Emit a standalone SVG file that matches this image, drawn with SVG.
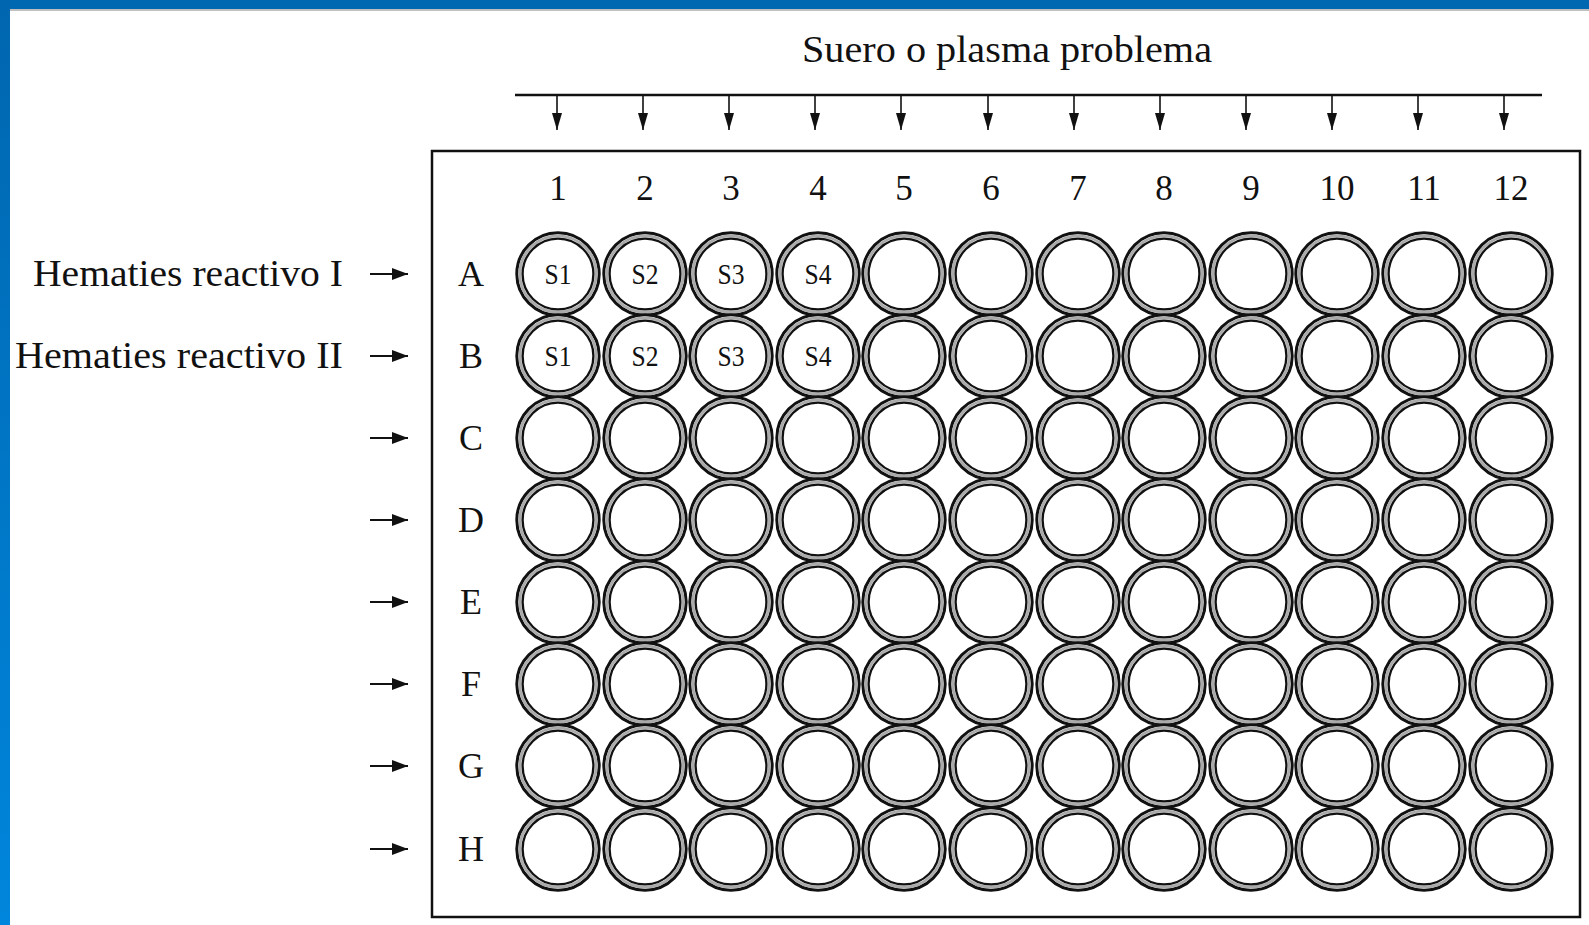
<svg xmlns="http://www.w3.org/2000/svg" xmlns:xlink="http://www.w3.org/1999/xlink" width="1589" height="925" viewBox="0 0 1589 925">
<style>
.t{font-family:"Liberation Serif","Times New Roman",serif;fill:#111}
.title{font-size:38px}
.num{font-size:35px;text-anchor:middle}
.row{font-size:36px;text-anchor:middle}
.lab{font-size:37px}
.s{font-size:29px;text-anchor:middle}
.conn{stroke:#111;fill:none}
</style>
<defs>
<linearGradient id="lg" x1="0" y1="0" x2="0" y2="1">
<stop offset="0" stop-color="#0066AF"/>
<stop offset="1" stop-color="#0086DC"/>
</linearGradient>
<g id="well">
<circle r="41.2" fill="#fff" stroke="#111" stroke-width="3"/>
<circle r="38.2" fill="none" stroke="#aaa" stroke-width="2.8"/>
<circle r="35.4" fill="none" stroke="#111" stroke-width="2.3"/>
</g>
<marker id="ad" viewBox="0 0 10 17" refX="5" refY="17" markerWidth="10" markerHeight="17" markerUnits="userSpaceOnUse" orient="0">
<path d="M0 0 L10 0 L5 17 Z" fill="#111"/>
</marker>
<marker id="ar" viewBox="0 0 16 12" refX="16" refY="6" markerWidth="16" markerHeight="12" markerUnits="userSpaceOnUse" orient="0">
<path d="M0 0 L16 6 L0 12 Z" fill="#111"/>
</marker>
</defs>
<rect width="1589" height="925" fill="#fff"/>
<rect x="0" y="0" width="1589" height="9" fill="#0068B0"/>
<rect x="0" y="0" width="10" height="925" fill="url(#lg)"/>
<line x1="10" y1="10" x2="1589" y2="10" stroke="#555" stroke-width="1.5" stroke-opacity="0.5"/>

<g id="title"><text class="t title" x="802" y="62" textLength="410" lengthAdjust="spacingAndGlyphs">Suero o plasma problema</text></g>

<g id="plate">
<rect x="432" y="151" width="1148" height="766" fill="none" stroke="#111" stroke-width="2.5"/>
</g>

<g id="connectors">
<line class="conn" x1="515" y1="95" x2="1542" y2="95" stroke-width="2.5"/>
<g stroke-width="1.6" class="conn" marker-end="url(#ad)">
<line x1="557" y1="95" x2="557" y2="130"/>
<line x1="643" y1="95" x2="643" y2="130"/>
<line x1="729" y1="95" x2="729" y2="130"/>
<line x1="815" y1="95" x2="815" y2="130"/>
<line x1="901" y1="95" x2="901" y2="130"/>
<line x1="988" y1="95" x2="988" y2="130"/>
<line x1="1074" y1="95" x2="1074" y2="130"/>
<line x1="1160" y1="95" x2="1160" y2="130"/>
<line x1="1246" y1="95" x2="1246" y2="130"/>
<line x1="1332" y1="95" x2="1332" y2="130"/>
<line x1="1418" y1="95" x2="1418" y2="130"/>
<line x1="1504" y1="95" x2="1504" y2="130"/>
</g>
<g stroke-width="2" class="conn" marker-end="url(#ar)">
<line x1="370" y1="274" x2="408" y2="274"/>
<line x1="370" y1="356" x2="408" y2="356"/>
<line x1="370" y1="438" x2="408" y2="438"/>
<line x1="370" y1="520" x2="408" y2="520"/>
<line x1="370" y1="602" x2="408" y2="602"/>
<line x1="370" y1="684" x2="408" y2="684"/>
<line x1="370" y1="766" x2="408" y2="766"/>
<line x1="370" y1="849" x2="408" y2="849"/>
</g>
</g>

<g id="row-labels">
<text class="t lab" x="33" y="286" textLength="310" lengthAdjust="spacingAndGlyphs">Hematies reactivo I</text>
<text class="t lab" x="15" y="368" textLength="328" lengthAdjust="spacingAndGlyphs">Hematies reactivo II</text>
</g>

<g id="column-numbers">
<text class="t num" x="558" y="200">1</text>
<text class="t num" x="645" y="200">2</text>
<text class="t num" x="731" y="200">3</text>
<text class="t num" x="818" y="200">4</text>
<text class="t num" x="904" y="200">5</text>
<text class="t num" x="991" y="200">6</text>
<text class="t num" x="1078" y="200">7</text>
<text class="t num" x="1164" y="200">8</text>
<text class="t num" x="1251" y="200">9</text>
<text class="t num" x="1337" y="200">10</text>
<text class="t num" x="1424" y="200">11</text>
<text class="t num" x="1511" y="200">12</text>
</g>

<g id="row-letters">
<text class="t row" x="471" y="286">A</text>
<text class="t row" x="471" y="368">B</text>
<text class="t row" x="471" y="450">C</text>
<text class="t row" x="471" y="532">D</text>
<text class="t row" x="471" y="614">E</text>
<text class="t row" x="471" y="696">F</text>
<text class="t row" x="471" y="778">G</text>
<text class="t row" x="471" y="861">H</text>
</g>

<g id="wells">
<g id="row-A">
<use xlink:href="#well" x="558" y="274"/><use xlink:href="#well" x="645" y="274"/><use xlink:href="#well" x="731" y="274"/><use xlink:href="#well" x="818" y="274"/><use xlink:href="#well" x="904" y="274"/><use xlink:href="#well" x="991" y="274"/><use xlink:href="#well" x="1078" y="274"/><use xlink:href="#well" x="1164" y="274"/><use xlink:href="#well" x="1251" y="274"/><use xlink:href="#well" x="1337" y="274"/><use xlink:href="#well" x="1424" y="274"/><use xlink:href="#well" x="1511" y="274"/>
<text class="t s" x="558" y="284" textLength="27" lengthAdjust="spacingAndGlyphs">S1</text><text class="t s" x="645" y="284" textLength="27" lengthAdjust="spacingAndGlyphs">S2</text><text class="t s" x="731" y="284" textLength="27" lengthAdjust="spacingAndGlyphs">S3</text><text class="t s" x="818" y="284" textLength="27" lengthAdjust="spacingAndGlyphs">S4</text>
</g>
<g id="row-B">
<use xlink:href="#well" x="558" y="356"/><use xlink:href="#well" x="645" y="356"/><use xlink:href="#well" x="731" y="356"/><use xlink:href="#well" x="818" y="356"/><use xlink:href="#well" x="904" y="356"/><use xlink:href="#well" x="991" y="356"/><use xlink:href="#well" x="1078" y="356"/><use xlink:href="#well" x="1164" y="356"/><use xlink:href="#well" x="1251" y="356"/><use xlink:href="#well" x="1337" y="356"/><use xlink:href="#well" x="1424" y="356"/><use xlink:href="#well" x="1511" y="356"/>
<text class="t s" x="558" y="366" textLength="27" lengthAdjust="spacingAndGlyphs">S1</text><text class="t s" x="645" y="366" textLength="27" lengthAdjust="spacingAndGlyphs">S2</text><text class="t s" x="731" y="366" textLength="27" lengthAdjust="spacingAndGlyphs">S3</text><text class="t s" x="818" y="366" textLength="27" lengthAdjust="spacingAndGlyphs">S4</text>
</g>
<g id="row-C">
<use xlink:href="#well" x="558" y="438"/><use xlink:href="#well" x="645" y="438"/><use xlink:href="#well" x="731" y="438"/><use xlink:href="#well" x="818" y="438"/><use xlink:href="#well" x="904" y="438"/><use xlink:href="#well" x="991" y="438"/><use xlink:href="#well" x="1078" y="438"/><use xlink:href="#well" x="1164" y="438"/><use xlink:href="#well" x="1251" y="438"/><use xlink:href="#well" x="1337" y="438"/><use xlink:href="#well" x="1424" y="438"/><use xlink:href="#well" x="1511" y="438"/>
</g>
<g id="row-D">
<use xlink:href="#well" x="558" y="520"/><use xlink:href="#well" x="645" y="520"/><use xlink:href="#well" x="731" y="520"/><use xlink:href="#well" x="818" y="520"/><use xlink:href="#well" x="904" y="520"/><use xlink:href="#well" x="991" y="520"/><use xlink:href="#well" x="1078" y="520"/><use xlink:href="#well" x="1164" y="520"/><use xlink:href="#well" x="1251" y="520"/><use xlink:href="#well" x="1337" y="520"/><use xlink:href="#well" x="1424" y="520"/><use xlink:href="#well" x="1511" y="520"/>
</g>
<g id="row-E">
<use xlink:href="#well" x="558" y="602"/><use xlink:href="#well" x="645" y="602"/><use xlink:href="#well" x="731" y="602"/><use xlink:href="#well" x="818" y="602"/><use xlink:href="#well" x="904" y="602"/><use xlink:href="#well" x="991" y="602"/><use xlink:href="#well" x="1078" y="602"/><use xlink:href="#well" x="1164" y="602"/><use xlink:href="#well" x="1251" y="602"/><use xlink:href="#well" x="1337" y="602"/><use xlink:href="#well" x="1424" y="602"/><use xlink:href="#well" x="1511" y="602"/>
</g>
<g id="row-F">
<use xlink:href="#well" x="558" y="684"/><use xlink:href="#well" x="645" y="684"/><use xlink:href="#well" x="731" y="684"/><use xlink:href="#well" x="818" y="684"/><use xlink:href="#well" x="904" y="684"/><use xlink:href="#well" x="991" y="684"/><use xlink:href="#well" x="1078" y="684"/><use xlink:href="#well" x="1164" y="684"/><use xlink:href="#well" x="1251" y="684"/><use xlink:href="#well" x="1337" y="684"/><use xlink:href="#well" x="1424" y="684"/><use xlink:href="#well" x="1511" y="684"/>
</g>
<g id="row-G">
<use xlink:href="#well" x="558" y="766"/><use xlink:href="#well" x="645" y="766"/><use xlink:href="#well" x="731" y="766"/><use xlink:href="#well" x="818" y="766"/><use xlink:href="#well" x="904" y="766"/><use xlink:href="#well" x="991" y="766"/><use xlink:href="#well" x="1078" y="766"/><use xlink:href="#well" x="1164" y="766"/><use xlink:href="#well" x="1251" y="766"/><use xlink:href="#well" x="1337" y="766"/><use xlink:href="#well" x="1424" y="766"/><use xlink:href="#well" x="1511" y="766"/>
</g>
<g id="row-H">
<use xlink:href="#well" x="558" y="849"/><use xlink:href="#well" x="645" y="849"/><use xlink:href="#well" x="731" y="849"/><use xlink:href="#well" x="818" y="849"/><use xlink:href="#well" x="904" y="849"/><use xlink:href="#well" x="991" y="849"/><use xlink:href="#well" x="1078" y="849"/><use xlink:href="#well" x="1164" y="849"/><use xlink:href="#well" x="1251" y="849"/><use xlink:href="#well" x="1337" y="849"/><use xlink:href="#well" x="1424" y="849"/><use xlink:href="#well" x="1511" y="849"/>
</g>
</g>
</svg>
